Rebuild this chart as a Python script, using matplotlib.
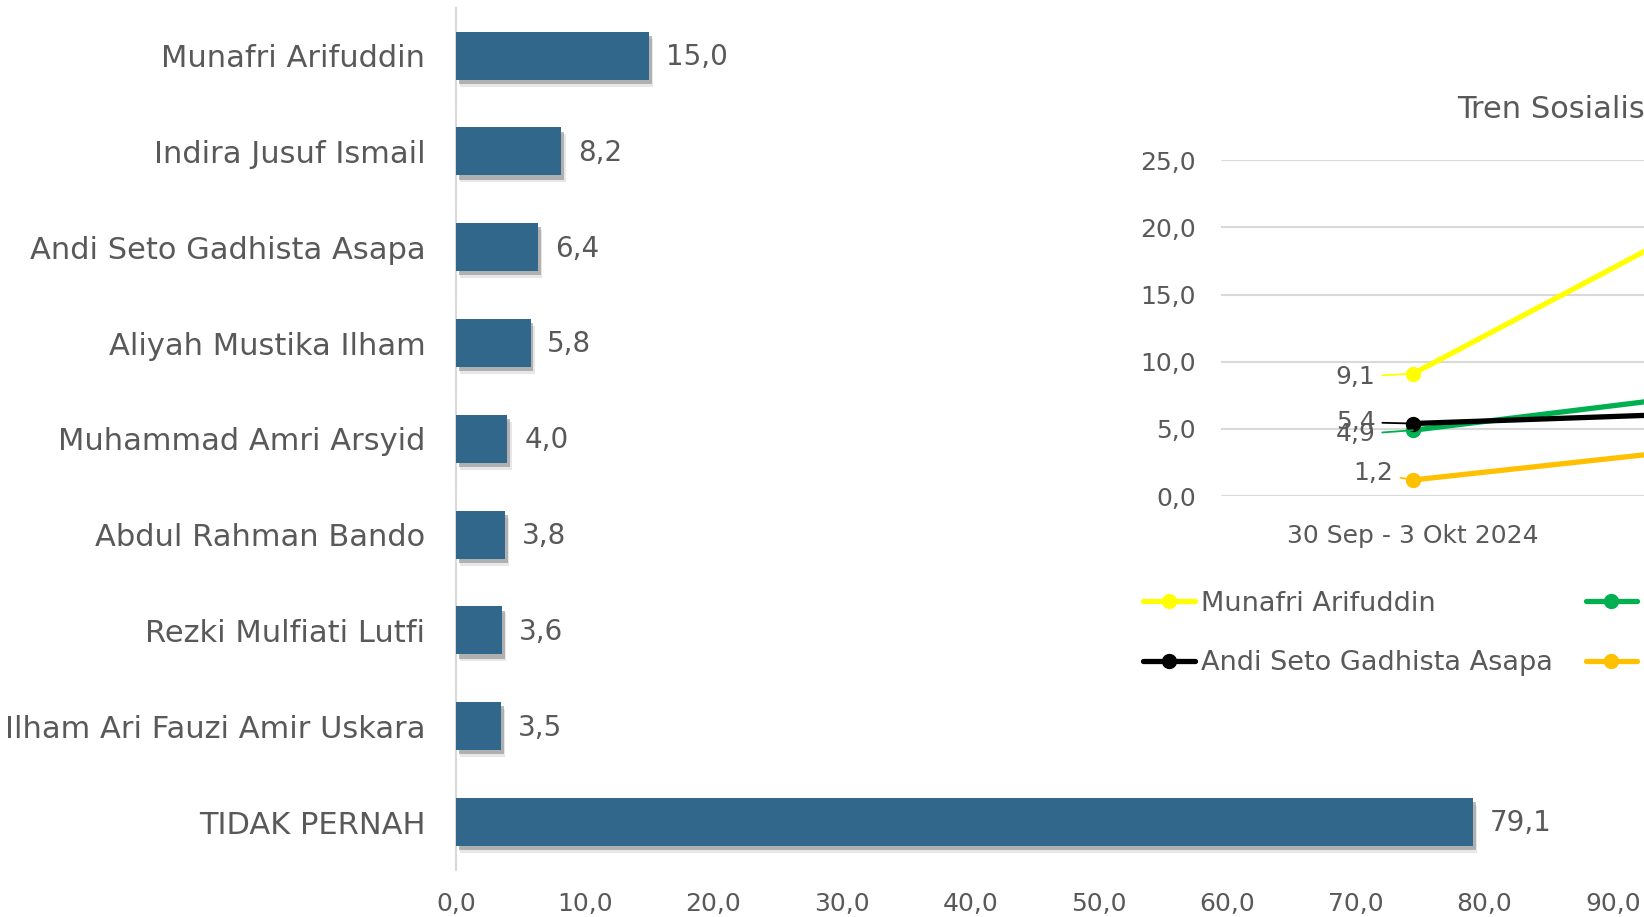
import numpy as np
import matplotlib.pyplot as plt
import matplotlib.patheffects as pe

plt.rcParams["font.family"] = "DejaVu Sans"

# Data - bar chart
names = ["Munafri Arifuddin", "Indira Jusuf Ismail", "Andi Seto Gadhista Asapa",
         "Aliyah Mustika Ilham", "Muhammad Amri Arsyid", "Abdul Rahman Bando",
         "Rezki Mulfiati Lutfi", "Ilham Ari Fauzi Amir Uskara", "TIDAK PERNAH"]
values = [15.0, 8.2, 6.4, 5.8, 4.0, 3.8, 3.6, 3.5, 79.1]
xticks = [0, 10, 20, 30, 40, 50, 60, 70, 80, 90]

# Data - trend chart (second period falls outside the picture)
periods = ["30 Sep - 3 Okt 2024", "14 - 18 Okt 2024"]
trend_names = ["Munafri Arifuddin", "Indira Jusuf Ismail",
               "Andi Seto Gadhista Asapa", "Muhammad Amri Arsyid"]
munafri = [9.1, 24.2]
indira = [4.9, 8.4]
andi = [5.4, 6.4]
amri = [1.2, 4.3]
yticks2 = [0, 5, 10, 15, 20, 25]

bar_c = "#31678A"
txt_c = "#595959"
grid_c = "#D9D9D9"
line_c = ["#FFFF00", "#00B050", "#000000", "#FFC000"]


def fmt(v):
    return f"{v:.1f}".replace(".", ",")


fig = plt.figure(figsize=(16.44, 9.17), dpi=100)

# Bar chart
ax = fig.add_axes([0.2774, 0.0513, 0.7037, 0.9403])
y = np.arange(len(names))
bars = ax.barh(y, values, height=0.5, color=bar_c, zorder=3)
for b in bars:
    b.set_path_effects([pe.SimplePatchShadow(offset=(3, -5), shadow_rgbFace="#d0d0d0", alpha=0.5),
                        pe.SimplePatchShadow(offset=(2, -3), shadow_rgbFace="#8c8c8c", alpha=0.6),
                        pe.Normal()])
for i, v in enumerate(values):
    ax.annotate(fmt(v), (v, i), xytext=(12, -1), textcoords="offset points",
                ha="left", va="center", fontsize=20, color=txt_c)
ax.set_ylim(len(names) - 0.5, -0.5)
ax.set_xlim(0, 90)
ax.set_yticks(y)
ax.set_yticklabels(names, fontsize=22, color=txt_c)
ax.set_xticks(xticks)
ax.set_xticklabels([fmt(t) for t in xticks], fontsize=18, color=txt_c)
ax.tick_params(axis="y", length=0, pad=22)
ax.tick_params(axis="x", length=0, pad=16)
for s in ["top", "right", "bottom"]:
    ax.spines[s].set_visible(False)
ax.spines["left"].set_color(grid_c)
ax.spines["left"].set_linewidth(1.5)
ax.set_facecolor("none")

# Trend chart
ax2 = fig.add_axes([0.7427, 0.459, 0.4669, 0.3664])
ax2.set_facecolor("none")
xs = np.arange(len(periods))
series = [munafri, indira, andi, amri]
handles = []
for name, s, c in zip(trend_names, series, line_c):
    h, = ax2.plot(xs, s, color=c, lw=3.8, marker="o", ms=10, solid_capstyle="round", zorder=3)
    handles.append(h)
lab_off = [(-27, -2), (-27, -3), (-27, 1), (-14, 5)]
for s, c, off in zip(series, line_c, lab_off):
    ax2.annotate(fmt(s[0]), (xs[0], s[0]), xytext=off, textcoords="offset points",
                 ha="right", va="center", fontsize=18, color=txt_c,
                 arrowprops=dict(arrowstyle="-", color=c, lw=1.3, shrinkA=3, shrinkB=0))
ax2.set_xlim(-0.5, len(periods) - 0.5)
ax2.set_ylim(0, 25)
ax2.set_yticks(yticks2)
ax2.set_yticklabels([fmt(t) for t in yticks2], fontsize=18, color=txt_c)
ax2.set_xticks(xs)
ax2.set_xticklabels(periods, fontsize=18, color=txt_c)
ax2.tick_params(axis="both", length=0)
ax2.tick_params(axis="y", pad=18)
ax2.tick_params(axis="x", pad=20)
ax2.grid(axis="y", color=grid_c, lw=1.5)
ax2.set_axisbelow(True)
for s in ax2.spines.values():
    s.set_visible(False)

fig.text(0.8862, 0.881, "Tren Sosialisasi Kandidat", ha="left", va="center",
         fontsize=22, color=txt_c)

order = [0, 2, 1, 3]
fig.legend([handles[k] for k in order], [trend_names[k] for k in order],
           ncol=2, loc="upper left", bbox_to_anchor=(0.6953, 0.356),
           frameon=False, fontsize=19.5, labelcolor=txt_c, handlelength=1.9,
           handletextpad=0.25, columnspacing=1.2, labelspacing=1.25,
           borderpad=0, borderaxespad=0)

fig.savefig("out.png", dpi=100)
